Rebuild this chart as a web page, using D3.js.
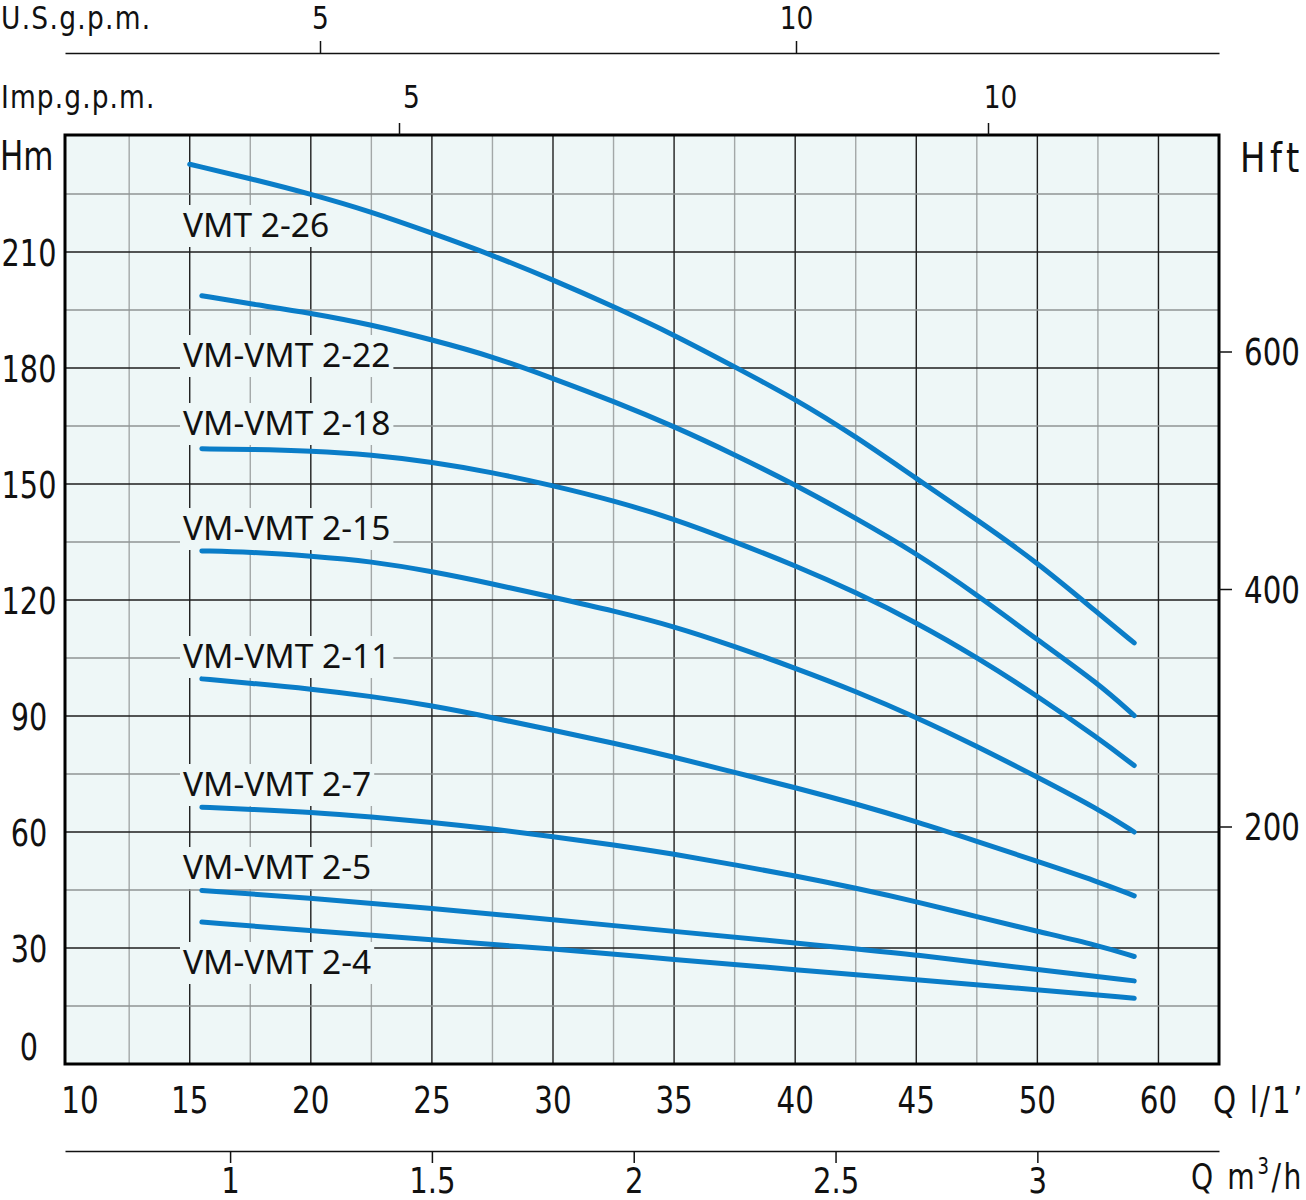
<!DOCTYPE html>
<html lang="en">
<head>
<meta charset="UTF-8">
<title>VM-VMT 2 performance curves</title>
<style>
  body { margin: 0; background: #fff; }
  svg text { font-family: "DejaVu Sans Condensed", "DejaVu Sans", sans-serif; fill: #111; }
  svg text.curve-label { font-family: "Noto Sans", sans-serif; font-size: 33.5px; }
</style>
</head>
<body>
<svg id="chart" width="1306" height="1200"></svg>
<script src="https://cdn.jsdelivr.net/npm/d3@7/dist/d3.min.js"></script>
<script>
// curve data: flow Q in l/min, head H in m
const models = ["VMT 2-26", "VM-VMT 2-22", "VM-VMT 2-18", "VM-VMT 2-15",
                "VM-VMT 2-11", "VM-VMT 2-7", "VM-VMT 2-5", "VM-VMT 2-4"];

const flowFull = [15.5, 17.5, 20, 22.5, 25, 27.5, 30, 32.5, 35, 37.5, 40, 42.5, 45, 47.5, 50, 52.5, 54];
const flow2_26 = [15, 17.5, 20, 22.5, 25, 27.5, 30, 32.5, 35, 37.5, 40, 42.5, 45, 47.5, 50, 52.5, 54];
const flowLow  = [15.5, 20, 25, 30, 35, 40, 45, 50, 54];

const head2_26 = [232.7, 229.0, 225.0, 220.4, 214.9, 209.2, 202.8, 195.9, 188.6, 180.3, 172.0, 162.3, 151.4, 140.8, 129.7, 116.6, 108.9];
const head2_22 = [198.7, 196.6, 194.2, 191.2, 187.3, 183.0, 177.3, 171.4, 164.9, 157.6, 149.8, 141.2, 132.1, 121.4, 109.7, 98.5, 90.1];
const head2_18 = [159.1, 159.0, 158.6, 157.6, 155.7, 153.0, 149.6, 145.7, 141.0, 135.1, 128.9, 122.0, 114.2, 105.2, 95.2, 84.3, 77.2];
const head2_15 = [132.7, 132.4, 131.4, 130.0, 127.4, 124.2, 120.7, 117.2, 113.2, 108.0, 102.4, 96.4, 89.7, 82.2, 74.2, 66.0, 60.0];
const head2_11 = [99.6, 98.5, 97.0, 95.1, 92.7, 89.6, 86.3, 83.0, 79.4, 75.4, 71.5, 67.3, 62.7, 57.6, 52.4, 47.2, 43.5];
const head2_7  = [66.4, 65.9, 65.1, 63.9, 62.5, 60.8, 58.8, 56.7, 54.3, 51.5, 48.7, 45.5, 42.0, 38.1, 34.3, 30.7, 27.8];
const head2_5  = [44.9, 42.9, 40.3, 37.3, 34.3, 31.3, 28.3, 24.4, 21.5];
const head2_4  = [36.7, 34.5, 32.1, 29.8, 27.0, 24.4, 21.8, 19.2, 17.0];

// axis ticks
const hmTicks  = [0, 30, 60, 90, 120, 150, 180, 210];
const hftTicks = [200, 400, 600];
const qTicks   = [10, 15, 20, 25, 30, 35, 40, 45, 50, 55];
const qTickLabels = ["10", "15", "20", "25", "30", "35", "40", "45", "50", "60"];
const m3hTicks = [1, 1.5, 2, 2.5, 3];
const usGpmTicks  = [5, 10];
const impGpmTicks = [5, 10];

const series = [
  [flow2_26, head2_26], [flowFull, head2_22], [flowFull, head2_18], [flowFull, head2_15],
  [flowFull, head2_11], [flowFull, head2_7], [flowLow, head2_5], [flowLow, head2_4]
];

// layout
const plotLeft = 65, plotRight = 1219, plotTop = 135, plotBottom = 1064;
const labelBaselines = [237, 367, 435, 540, 668, 796, 879, 974];
const plotBg = "#eef7f7", blue = "#0a7dc8";

const svg = d3.select("#chart");

// the drawing uses a narrow DIN-like face: squeeze the condensed font horizontally,
// keeping each text's anchor point where it is
function squeeze(sel, factor) {
  sel.each(function () {
    const x0 = +this.getAttribute("x") || 0;
    d3.select(this).attr("transform", `translate(${x0 * (1 - factor)},0) scale(${factor},1)`);
  });
}

const x = d3.scaleLinear().domain([9.85, 57.5]).range([plotLeft, plotRight]);
const y = d3.scaleLinear().domain([0, 240]).range([plotBottom, 136]);
const yFt = d3.scaleLinear().domain([0, 800]).range([plotBottom, plotBottom - 800 * 1.1875]);

// secondary flow scales (the printed gpm scales don't line up exactly, keep them as drawn)
const usGpm = d3.scaleLinear().domain([5, 10]).range([320, 796]);
usGpm.domain([usGpm.invert(plotLeft), usGpm.invert(plotRight)]).range([plotLeft, plotRight]);
const impGpm = d3.scaleLinear().domain([5, 10]).range([399, 988]);
impGpm.domain([impGpm.invert(plotLeft), impGpm.invert(plotRight)]).range([plotLeft, plotRight]);
const m3h = d3.scaleLinear().domain(x.domain().map(d => d * 0.06)).range([plotLeft, plotRight]);

// plot background
svg.append("rect")
  .attr("x", plotLeft).attr("y", plotTop)
  .attr("width", plotRight - plotLeft).attr("height", plotBottom - plotTop)
  .attr("fill", plotBg);

// grid
const grid = svg.append("g");
const xGrid = d3.range(12.5, 57.5, 2.5);
const yGrid = d3.range(15, 240, 15);

grid.selectAll(".vx").data(xGrid).enter().append("line")
  .attr("x1", d => x(d)).attr("x2", d => x(d))
  .attr("y1", plotTop).attr("y2", plotBottom)
  .attr("stroke", d => d % 5 === 0 ? "#1e1e1e" : "#a3a8a8")
  .attr("stroke-width", 1.4);

grid.selectAll(".hy").data(yGrid).enter().append("line")
  .attr("x1", plotLeft).attr("x2", plotRight)
  .attr("y1", d => y(d)).attr("y2", d => y(d))
  .attr("stroke", d => d % 30 === 0 ? "#1e1e1e" : "#8f9494")
  .attr("stroke-width", 1.4);

// curve labels, with a patch of background behind them
const labels = svg.append("g");
models.forEach((m, i) => {
  const g = labels.append("g");
  const t = g.append("text")
    .attr("class", "curve-label")
    .attr("x", 183).attr("y", labelBaselines[i])
    .text(m);
  const b = t.node().getBBox();
  g.insert("rect", "text")
    .attr("x", b.x - 3).attr("y", b.y + 4)
    .attr("width", b.width + 6).attr("height", b.height - 4)
    .attr("fill", plotBg);
});

// curves
const line = d3.line()
  .x(d => x(d[0]))
  .y(d => y(d[1]))
  .curve(d3.curveBasis);

svg.append("g").selectAll("path")
  .data(series)
  .enter().append("path")
  .attr("d", s => line(d3.zip(s[0], s[1])))
  .attr("fill", "none")
  .attr("stroke", blue)
  .attr("stroke-width", 5)
  .attr("stroke-linecap", "round")
  .attr("stroke-linejoin", "round");

// frame
svg.append("rect")
  .attr("x", plotLeft).attr("y", plotTop)
  .attr("width", plotRight - plotLeft).attr("height", plotBottom - plotTop)
  .attr("fill", "none")
  .attr("stroke", "#000")
  .attr("stroke-width", 3);

// left Hm labels
svg.append("g").selectAll("text")
  .data(hmTicks)
  .enter().append("text")
  .attr("x", 29)
  .attr("y", d => Math.min(y(d), plotBottom - 18) + 14)
  .attr("text-anchor", "middle")
  .style("font-size", "38px")
  .text(d => d)
  .call(squeeze, 0.84);

// right Hft axis
const ftAxis = svg.append("g")
  .attr("transform", `translate(${plotRight},0)`)
  .call(d3.axisRight(yFt).tickValues(hftTicks).tickSizeInner(13).tickSizeOuter(0).tickPadding(12));
ftAxis.select(".domain").remove();
ftAxis.selectAll("line").attr("stroke", "#111").attr("stroke-width", 1.5);
ftAxis.selectAll("text").style("font-size", "37px").attr("fill", "#111").attr("dy", "0.36em")
  .call(squeeze, 0.88);

// bottom l/min labels
svg.append("g").selectAll("text")
  .data(qTicks)
  .enter().append("text")
  .attr("x", d => Math.max(x(d), 80))
  .attr("y", 1113)
  .attr("text-anchor", "middle")
  .style("font-size", "38px")
  .text((d, i) => qTickLabels[i])
  .call(squeeze, 0.86);

// m3/h axis
const m3Axis = svg.append("g")
  .attr("transform", "translate(0,1151)")
  .call(d3.axisBottom(m3h).tickValues(m3hTicks).tickFormat(d => d).tickSizeInner(12).tickSizeOuter(0).tickPadding(0));
m3Axis.select(".domain").attr("stroke", "#111").attr("stroke-width", 1.5);
m3Axis.selectAll("line").attr("stroke", "#111").attr("stroke-width", 1.5);
m3Axis.selectAll("text").style("font-size", "36px").attr("fill", "#111").attr("y", 42).attr("dy", 0)
  .call(squeeze, 0.9);

// U.S. gpm axis
const usAxis = svg.append("g")
  .attr("transform", "translate(0,53)")
  .call(d3.axisTop(usGpm).tickValues(usGpmTicks).tickSizeInner(12).tickSizeOuter(0).tickPadding(12));
usAxis.select(".domain").attr("stroke", "#111").attr("stroke-width", 1.5);
usAxis.selectAll("line").attr("stroke", "#111").attr("stroke-width", 1.5);
usAxis.selectAll("text").style("font-size", "32px").attr("fill", "#111")
  .call(squeeze, 0.92);

// Imp gpm axis, sits on the top of the frame
const impAxis = svg.append("g")
  .attr("transform", `translate(0,${plotTop})`)
  .call(d3.axisTop(impGpm).tickValues(impGpmTicks).tickSizeInner(12).tickSizeOuter(0).tickPadding(15));
impAxis.select(".domain").remove();
impAxis.selectAll("line").attr("stroke", "#111").attr("stroke-width", 1.5);
impAxis.selectAll("text").style("font-size", "32px").attr("fill", "#111").attr("x", 12)
  .call(squeeze, 0.92);

// unit titles
const title = (txt, tx, ty, size, factor, spacing) => svg.append("text")
  .attr("x", tx).attr("y", ty)
  .style("font-size", size + "px")
  .style("letter-spacing", (spacing || 0) + "px")
  .text(txt)
  .call(squeeze, factor);

title("U.S.g.p.m.", 1, 29, 32, 0.92, 1.4);
title("Imp.g.p.m.", 1, 108, 32, 0.92, 1.2);
title("Hm", 0, 170, 41, 0.84);
title("Hft", 1240, 172, 41, 0.92, 5);
title("Q l/1\u2019", 1213, 1113, 38, 0.86, 2.5);

// Q m3/h
const qm3 = svg.append("text")
  .attr("x", 1191).attr("y", 1189)
  .style("font-size", "36px")
  .style("letter-spacing", "3px");
qm3.append("tspan").text("Q m");
qm3.append("tspan").attr("dy", -15).style("font-size", "23px").text("3");
qm3.append("tspan").attr("dy", 15).text("/h");
qm3.call(squeeze, 0.87);
</script>
</body>
</html>
